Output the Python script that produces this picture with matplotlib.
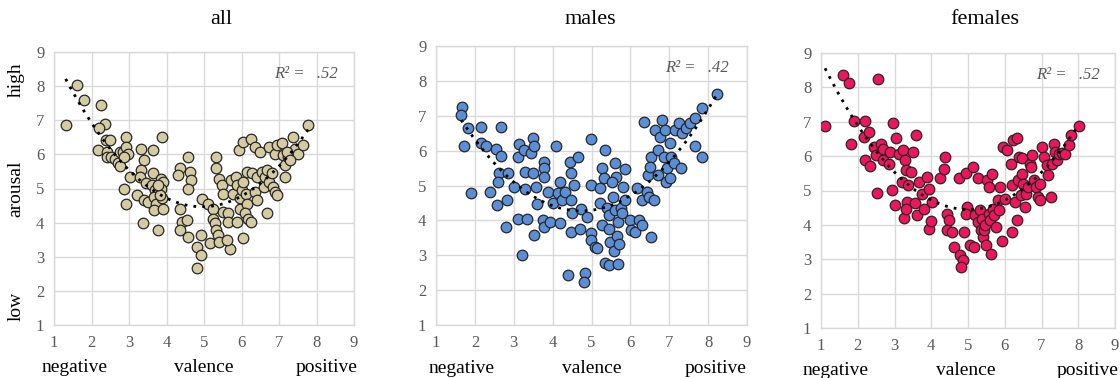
import numpy as np
import matplotlib
matplotlib.use("Agg")
import matplotlib.pyplot as plt
from matplotlib.transforms import blended_transform_factory

# ---------------- data ----------------
all_x = [1.31, 1.61, 1.79, 2.26, 2.35, 2.20, 2.16, 2.38, 2.49, 2.40, 2.41, 2.52, 2.62, 2.70, 2.77,
         2.75, 2.84, 2.91, 2.93, 2.98, 2.86, 3.02, 2.86, 2.93, 3.20, 3.33, 3.39, 3.33, 3.29, 3.46,
         3.39, 3.51, 3.38, 3.64, 3.65, 3.61, 3.70, 3.66, 3.73, 3.66, 3.77, 3.89, 3.86, 3.91, 3.86,
         3.89, 3.91, 3.82, 3.77, 4.35, 4.30, 4.35, 4.40, 4.35, 4.57, 4.62, 4.66, 4.57, 4.55, 4.57,
         4.80, 4.80, 4.93, 4.93, 4.95, 5.11, 5.15, 5.24, 5.31, 5.32, 5.39, 5.24, 5.28, 5.32, 5.37,
         5.39, 5.48, 5.52, 5.52, 5.64, 5.64, 5.69, 5.62, 5.72, 5.78, 5.85, 5.89, 5.89, 5.94, 6.03,
         6.03, 5.96, 5.96, 6.00, 6.05, 6.12, 6.14, 6.09, 6.18, 6.24, 6.14, 6.24, 6.29, 6.36, 6.40,
         6.36, 6.40, 6.49, 6.54, 6.59, 6.63, 6.67, 6.74, 6.67, 6.74, 6.80, 6.85, 6.89, 6.94, 6.89,
         6.95, 7.07, 7.11, 7.16, 7.16, 7.25, 7.38, 7.42, 7.51, 7.64, 7.78, 7.20, 7.29]
all_y = [6.85, 8.02, 7.60, 7.46, 6.90, 6.76, 6.12, 6.41, 6.41, 6.07, 5.93, 5.93, 5.85, 5.75, 5.66,
         6.07, 6.07, 6.51, 6.22, 6.02, 5.93, 5.34, 5.00, 4.56, 4.80, 6.17, 5.83, 5.54, 5.34, 5.15,
         4.66, 4.61, 3.98, 6.12, 5.44, 5.10, 4.95, 4.76, 4.54, 4.37, 3.78, 6.51, 5.29, 5.20, 5.00,
         4.71, 4.41, 4.80, 5.10, 5.59, 5.39, 4.41, 4.02, 3.78, 5.93, 5.49, 5.24, 5.00, 4.07, 3.59,
         3.29, 2.66, 3.63, 3.05, 4.68, 4.56, 3.39, 4.41, 5.93, 5.59, 5.29, 4.12, 3.98, 3.78, 3.63,
         3.44, 5.10, 4.85, 4.31, 4.27, 4.02, 3.24, 3.49, 5.24, 4.85, 5.34, 5.10, 4.02, 6.12, 6.37,
         3.54, 4.41, 4.71, 4.95, 5.20, 4.85, 4.56, 4.27, 4.12, 4.02, 5.49, 6.46, 5.44, 6.22, 5.34,
         4.90, 4.66, 6.07, 5.49, 5.05, 5.34, 5.54, 6.22, 4.27, 5.20, 5.44, 5.05, 4.90, 4.80, 6.02,
         6.27, 6.32, 5.98, 5.68, 5.34, 5.93, 6.51, 6.17, 6.02, 6.27, 6.85, 6.07, 5.83]

males_x = [1.67, 1.65, 1.72, 1.83, 1.89, 2.17, 2.15, 2.28, 2.39, 2.54, 2.67, 2.68, 2.62, 2.60, 2.58,
           2.84, 2.82, 2.79, 3.01, 3.10, 3.14, 3.10, 3.20, 3.27, 3.28, 3.28, 3.33, 3.44, 3.49, 3.53,
           3.49, 3.57, 3.60, 3.53, 3.75, 3.79, 3.77, 3.79, 3.79, 3.89, 3.92, 4.01, 4.09, 4.13, 4.18,
           4.18, 4.24, 4.32, 4.39, 4.44, 4.48, 4.46, 4.50, 4.48, 4.65, 4.55, 4.70, 4.72, 4.83, 4.81,
           4.89, 4.99, 4.99, 4.98, 4.99, 5.08, 5.13, 5.21, 5.21, 5.27, 5.32, 5.34, 5.26, 5.34, 5.45,
           5.39, 5.45, 5.45, 5.47, 5.56, 5.60, 5.62, 5.60, 5.53, 5.67, 5.65, 5.59, 5.71, 5.69, 5.76,
           5.79, 5.82, 5.85, 5.86, 5.99, 6.02, 6.12, 6.16, 6.21, 6.31, 6.29, 6.34, 6.45, 6.42, 6.47,
           6.54, 6.54, 6.51, 6.60, 6.64, 6.72, 6.71, 6.81, 6.77, 6.86, 6.88, 6.91, 6.94, 7.03, 7.03,
           7.05, 7.11, 7.15, 7.24, 7.31, 7.34, 7.43, 7.54, 7.65, 7.67, 7.83, 7.85, 8.24]
males_y = [7.26, 7.02, 6.13, 6.66, 4.79, 6.69, 6.21, 6.12, 4.82, 6.04, 5.85, 6.69, 5.35, 5.11, 4.44,
           5.35, 4.59, 3.82, 4.95, 5.83, 6.19, 4.03, 3.01, 6.02, 5.40, 4.89, 4.03, 5.94, 6.35, 6.14,
           5.35, 4.97, 4.47, 3.58, 4.01, 5.68, 5.49, 5.25, 3.82, 4.82, 3.96, 4.49, 6.13, 4.78, 5.11,
           3.92, 4.59, 4.80, 2.43, 5.68, 5.37, 4.59, 4.20, 3.68, 5.83, 5.02, 3.74, 4.32, 2.48, 2.24,
           4.11, 6.33, 5.02, 3.63, 3.44, 3.25, 3.20, 4.49, 4.92, 5.49, 5.21, 6.02, 3.87, 2.77, 2.72,
           4.35, 4.15, 3.74, 3.39, 4.68, 5.64, 5.25, 4.30, 5.11, 3.96, 3.55, 3.13, 3.32, 2.75, 4.35,
           4.20, 4.97, 4.59, 5.46, 4.01, 3.72, 3.68, 4.92, 4.01, 3.87, 4.59, 6.83, 5.30, 4.82, 4.68,
           3.53, 5.83, 5.54, 4.59, 6.59, 5.30, 6.02, 6.88, 6.40, 5.83, 6.59, 5.11, 5.49, 6.21, 5.21,
           5.83, 5.64, 6.59, 6.80, 5.49, 6.50, 6.64, 6.78, 6.93, 6.13, 7.21, 5.83, 7.63]

females_x = [1.11, 1.59, 1.75, 2.54, 1.81, 1.90, 2.20, 2.17, 2.20, 2.34, 2.31, 2.43, 2.49, 2.52, 2.63,
             2.70, 2.68, 2.86, 2.88, 2.97, 2.93, 3.02, 3.05, 3.11, 3.20, 3.23, 3.29, 3.32, 3.26, 3.34,
             3.32, 3.38, 3.45, 3.50, 3.59, 3.56, 3.61, 3.68, 3.75, 3.80, 3.88, 3.93, 3.93, 4.02, 3.99,
             4.23, 4.35, 4.38, 4.43, 4.47, 4.43, 4.56, 4.61, 4.75, 4.79, 4.86, 4.81, 4.90, 4.95, 4.97,
             4.95, 5.05, 5.14, 5.15, 5.20, 5.26, 5.26, 5.32, 5.35, 5.38, 5.41, 5.44, 5.47, 5.50, 5.52,
             5.56, 5.56, 5.59, 5.63, 5.65, 5.68, 5.72, 5.77, 5.81, 5.84, 5.88, 5.93, 5.95, 6.06, 6.02,
             6.17, 6.20, 6.20, 6.23, 6.29, 6.32, 6.34, 6.35, 6.38, 6.43, 6.47, 6.47, 6.50, 6.56, 6.58,
             6.62, 6.70, 6.72, 6.75, 6.79, 6.84, 6.90, 6.95, 6.97, 7.02, 7.06, 7.14, 7.17, 7.25, 7.29,
             7.34, 7.38, 7.41, 7.47, 7.56, 7.65, 7.75, 7.79, 8.02]
females_y = [6.87, 8.35, 8.13, 8.24, 6.34, 7.02, 7.02, 6.56, 5.88, 5.70, 6.70, 6.27, 6.02, 4.93, 6.36,
             6.22, 5.88, 5.78, 6.12, 6.95, 5.01, 4.57, 6.53, 6.07, 5.25, 6.17, 5.88, 5.61, 4.21, 4.67,
             4.47, 5.15, 5.54, 6.12, 6.61, 4.64, 4.28, 5.25, 4.91, 4.47, 5.39, 5.05, 3.89, 4.67, 4.11,
             5.35, 5.64, 5.98, 4.33, 4.15, 3.84, 3.79, 3.36, 5.35, 3.11, 2.97, 2.77, 3.79, 5.51, 4.52,
             4.33, 3.41, 5.68, 3.36, 4.28, 5.35, 4.08, 4.42, 3.84, 4.18, 3.65, 3.84, 3.99, 3.41, 5.30,
             5.10, 4.33, 4.13, 3.16, 5.49, 4.47, 4.28, 3.94, 4.71, 4.44, 5.10, 3.53, 6.27, 6.19, 4.76,
             5.78, 5.15, 3.79, 6.46, 4.67, 4.13, 6.53, 5.30, 5.98, 4.86, 5.94, 5.49, 5.20, 4.52, 4.89,
             5.10, 5.78, 5.68, 6.02, 5.30, 5.10, 4.81, 5.20, 4.72, 6.27, 5.98, 5.73, 5.44, 4.81, 5.78,
             6.36, 6.12, 5.88, 6.07, 6.09, 6.07, 6.32, 6.61, 6.87]

titles = ["all", "males", "females"]
r2_labels = [".52", ".42", ".52"]
colors = ["#d5cba2", "#5a8fd8", "#f0145c"]
ticks = [1, 2, 3, 4, 5, 6, 7, 8, 9]
x_words = ["negative", "valence", "positive"]
x_word_pos = [[1.55, 5.0, 8.27], [1.65, 5.0, 8.2], [1.41, 4.95, 8.25]]
y_words = ["low", "arousal", "high"]
y_word_pos = [1.55, 5.0, 8.2]

series = [(all_x, all_y), (males_x, males_y), (females_x, females_y)]

# ---------------- figure ----------------
plt.rcParams['font.family'] = ['Liberation Serif', 'DejaVu Serif']
fig = plt.figure(figsize=(11.2, 3.78), dpi=100)
W, H = 1120, 378
boxes = [(54, 52, 354, 325), (436, 46, 747, 325), (821, 53, 1115, 328)]
title_x = [221, 590, 985]

grid_c = "#d9d9d9"
tick_c = "#595959"

for i, (xs, ys) in enumerate(series):
    l, t, r, b = boxes[i]
    ax = fig.add_axes([l / W, (H - b) / H, (r - l) / W, (b - t) / H])
    ax.set_xlim(1, 9)
    ax.set_ylim(1, 9)
    ax.set_xticks(ticks)
    ax.set_yticks(ticks)
    ax.grid(True, color=grid_c, linewidth=1.0)
    ax.set_axisbelow(True)
    for s in ax.spines.values():
        s.set_color(grid_c)
        s.set_linewidth(1.0)
    ax.tick_params(length=0, labelsize=12, labelcolor=tick_c, pad=7)

    ax.scatter(xs, ys, s=58, c=colors[i], edgecolors="#262626",
               linewidths=0.9, zorder=3)

    # quadratic trend line fitted to the data
    coef = np.polyfit(xs, ys, 2)
    xx = np.linspace(min(xs), max(xs), 200)
    ax.plot(xx, np.polyval(coef, xx), color="black", linestyle=(0, (1, 2.2)),
            linewidth=2.0, zorder=4)

    ax.text(0.84, 0.92, "R² =   " + r2_labels[i], transform=ax.transAxes,
            ha="center", va="center", fontsize=12, style="italic", color=tick_c)

    trans = blended_transform_factory(ax.transData, ax.transAxes)
    for w, xp in zip(x_words, x_word_pos[i]):
        ax.text(xp, -0.155, w, transform=trans, ha="center", va="center",
                fontsize=14, color="black")

    fig.text(title_x[i] / W, (H - 20) / H, titles[i], ha="center", va="center",
             fontsize=16, color="black")

    if i == 0:
        trans_y = blended_transform_factory(fig.transFigure, ax.transData)
        for w, yp in zip(y_words, y_word_pos):
            ax.text(16 / W, yp, w, transform=trans_y, rotation=90,
                    ha="center", va="center", fontsize=14, color="black")

fig.savefig("out.png", dpi=100, facecolor="white")
